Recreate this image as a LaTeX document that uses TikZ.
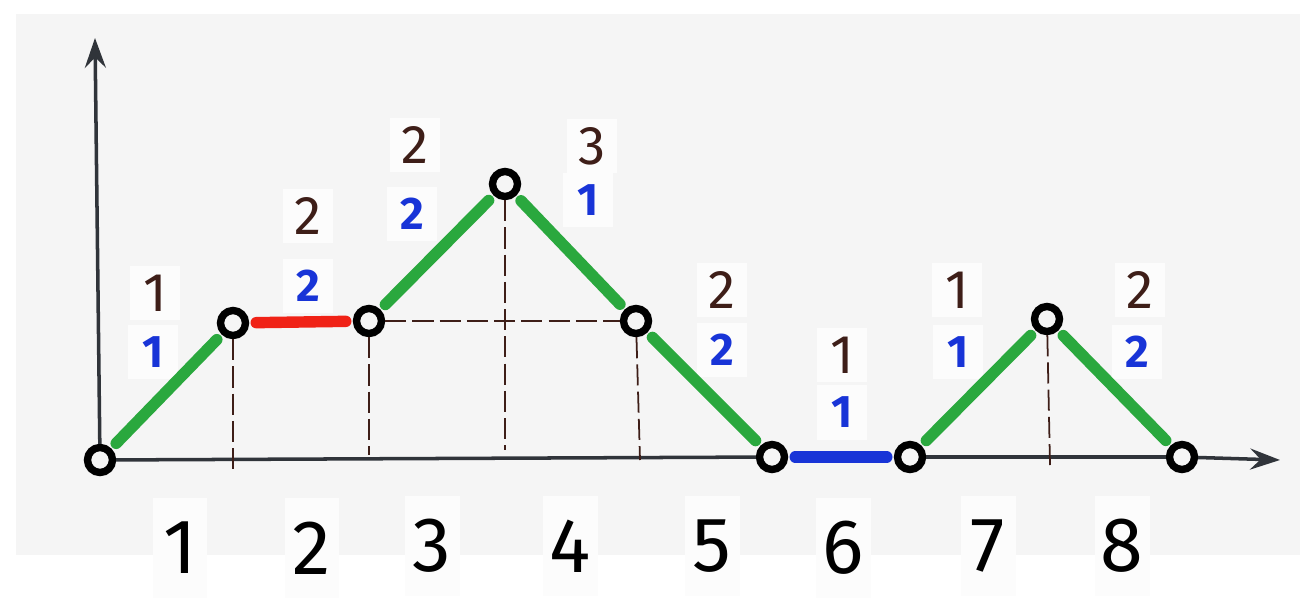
\documentclass[tikz,border=0pt]{standalone}
\usepackage{fontspec}
\setmainfont{Fira Sans}
\usepackage{tikz}
\usetikzlibrary{arrows.meta, positioning}
\usepackage{xcolor}
\definecolor{paper}{RGB}{245, 245, 245}
\definecolor{patch}{RGB}{252, 252, 252}
\definecolor{stepGreen}{RGB}{42, 168, 62}
\definecolor{levelRed}{RGB}{240, 34, 22}
\definecolor{levelBlue}{RGB}{24, 52, 215}
\definecolor{inkBrown}{RGB}{62, 30, 24}
\definecolor{axisInk}{RGB}{48, 52, 58}

\begin{document}
\begin{tikzpicture}[x=0.02cm, y=-0.02cm,
  vertex/.style={circle, draw=black, line width=4.2pt, fill=paper, minimum size=0.5cm, inner sep=0pt},
  stroke/.style={line width=6.5pt, line cap=round, shorten <=4pt, shorten >=4pt},
  guide/.style={inkBrown, line width=1pt, dash pattern=on 12pt off 3.5pt},
  axis/.style={axisInk, line width=2pt, -{Stealth[length=17pt, width=12pt, inset=6pt]}},
  count/.style={fill=patch, text=inkBrown, font=\fontsize{31}{31}\selectfont, minimum width=1cm, minimum height=1.1cm, inner sep=0pt},
  weight/.style={fill=patch, text=levelBlue, font=\bfseries\fontsize{26}{26}\selectfont, minimum width=1cm, minimum height=1.1cm, inner sep=0pt},
  index/.style={fill=patch, text=black, font=\fontsize{44}{44}\selectfont, minimum width=1.1cm, minimum height=2cm, inner sep=0pt}]
  \useasboundingbox (0,0) rectangle (1315,605);
  \fill[paper] (16,14) rectangle (1300,555);

  \node[index] (i1) at (180,548) {1};
  \node[index] (i2) at (312,548) {2};
  \node[index] (i3) at (432,546) {3};
  \node[index] (i4) at (570,546) {4};
  \node[index] (i5) at (712,546) {5};
  \node[index] (i6) at (843,548) {6};
  \node[index] (i7) at (988,546) {7};
  \node[index] (i8) at (1122,546) {8};

  \node[count] (c1) at (155,293) {1};
  \node[weight] (w1) at (153,352) {1};
  \node[count] (c2) at (308,216) {2};
  \node[weight] (w2) at (308,286) {2};
  \node[count] (c3) at (415,145) {2};
  \node[weight] (w3) at (412,214) {2};
  \node[count] (c4) at (592,146) {3};
  \node[weight] (w4) at (588,200) {1};
  \node[count] (c5) at (722,290) {2};
  \node[weight] (w5) at (722,350) {2};
  \node[count] (c6) at (842,355) {1};
  \node[weight] (w6) at (842,412) {1};
  \node[count] (c7) at (957,290) {1};
  \node[weight] (w7) at (958,352) {1};
  \node[count] (c8) at (1140,290) {2};
  \node[weight] (w8) at (1137,352) {2};

  \coordinate (yTip) at (95,38);
  \coordinate (xTip) at (1280,460);
  \coordinate (f1) at (233,470);
  \coordinate (f2) at (369,455);
  \coordinate (f3) at (505,450);
  \coordinate (f4) at (640,460);
  \coordinate (f7) at (1050,465);

  \node[vertex] (p0) at (100,460) {};
  \node[vertex] (p1) at (233,323) {};
  \node[vertex] (p2) at (369,321) {};
  \node[vertex] (p3) at (505,184) {};
  \node[vertex] (p4) at (636,321) {};
  \node[vertex] (p5) at (772,457) {};
  \node[vertex] (p6) at (910,457) {};
  \node[vertex] (p7) at (1047,319) {};
  \node[vertex] (p8) at (1182,457) {};

  \draw[axis] (p0) -- (yTip);
  \draw[axis] (p8) -- (xTip);
  \draw[axisInk, line width=2pt] (p0) -- (p5) (p6) -- (p8);

  \draw[guide] (p1) -- (f1);
  \draw[guide] (p2) -- (f2);
  \draw[guide] (p3) -- (f3);
  \draw[guide] (p4) -- (f4);
  \draw[guide] (p7) -- (f7);
  \draw[guide] (p2) -- (p4);

  \draw[stroke, stepGreen] (p0) -- (p1);
  \draw[stroke, levelRed] (p1) -- (p2);
  \draw[stroke, stepGreen] (p2) -- (p3);
  \draw[stroke, stepGreen] (p3) -- (p4);
  \draw[stroke, stepGreen] (p4) -- (p5);
  \draw[stroke, levelBlue] (p5) -- (p6);
  \draw[stroke, stepGreen] (p6) -- (p7);
  \draw[stroke, stepGreen] (p7) -- (p8);
\end{tikzpicture}
\end{document}
